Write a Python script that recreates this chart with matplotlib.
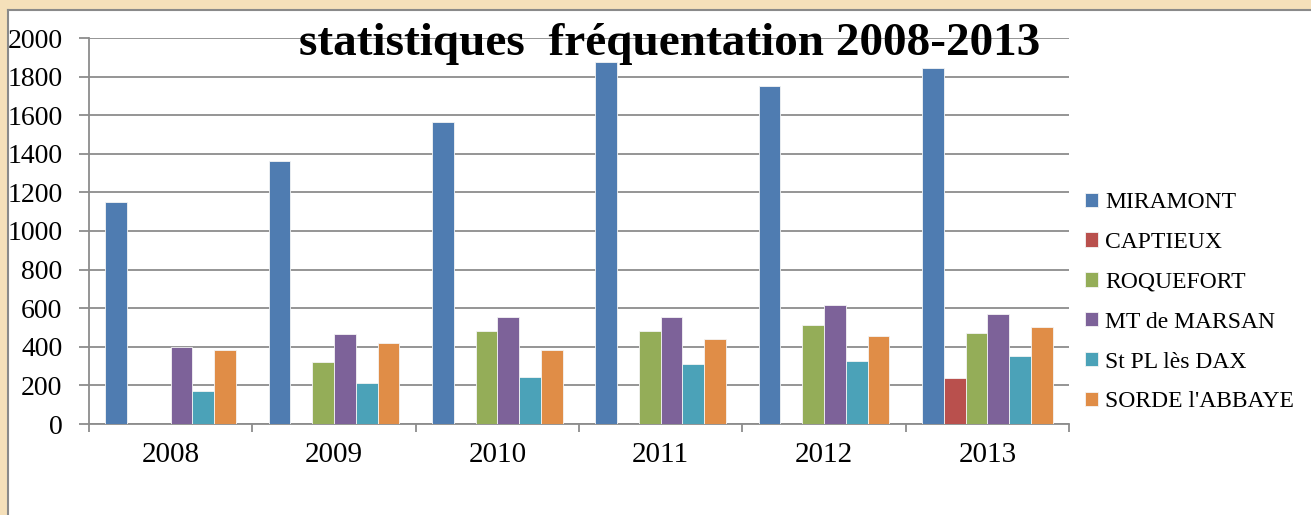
import matplotlib
matplotlib.use("Agg")
import matplotlib.pyplot as plt
import numpy as np

years = ['2008', '2009', '2010', '2011', '2012', '2013']
sites = ['MIRAMONT', 'CAPTIEUX', 'ROQUEFORT', 'MT de MARSAN', 'St PL lès DAX', "SORDE l'ABBAYE"]

miramont = [1148, 1362, 1567, 1878, 1752, 1846]
captieux = [0, 0, 0, 0, 0, 239]
roquefort = [0, 322, 484, 484, 515, 470]
mt_marsan = [400, 466, 556, 556, 615, 568]
st_pl_dax = [169, 214, 242, 313, 325, 351]
sorde = [383, 421, 383, 443, 458, 505]

series = [miramont, captieux, roquefort, mt_marsan, st_pl_dax, sorde]
colors = ['#4F7CB1', '#B9504D', '#94AD58', '#7D6299', '#4BA2B8', '#E08D47']

plt.rcParams['font.family'] = ['Liberation Serif', 'DejaVu Serif']

W, H = 1311, 515
fig = plt.figure(figsize=(W / 100, H / 100), dpi=100)
fig.patch.set_facecolor('#F5E0BA')

# white panel behind the chart
bg = fig.add_axes([8 / W, -0.05, 1.0, (H - 10) / H + 0.05], zorder=-1)
bg.set_facecolor('white')
bg.set_xticks([])
bg.set_yticks([])
for s in bg.spines.values():
    s.set_color('#8a8a8a')
    s.set_linewidth(1.5)

ax = fig.add_axes([89 / W, 91 / H, (1069 - 89) / W, (424 - 38) / H])
ax.set_facecolor('none')

x = np.arange(len(years))
n = len(series)
w = 1 / 7.5
for i, (vals, c, name) in enumerate(zip(series, colors, sites)):
    ax.bar(x + (i - (n - 1) / 2) * w, vals, width=w, color=c, label=name,
           edgecolor='#f4f4f4', linewidth=0.6, zorder=3)

ax.set_xlim(-0.5, len(years) - 0.5)
ax.set_ylim(0, 2000)
ax.set_yticks(range(0, 2001, 200))
ax.grid(axis='y', color='#8c8c8c', linewidth=1.3, zorder=0)
ax.set_axisbelow(True)

ax.set_xticks(x)
ax.set_xticklabels(years)
ax.set_xticks(np.arange(-0.5, len(years), 1), minor=True)
ax.tick_params(axis='x', which='major', length=0, pad=13, labelsize=21)
ax.tick_params(axis='x', which='minor', length=6, color='#8c8c8c', width=1.3)
ax.tick_params(axis='y', length=7, color='#8c8c8c', width=1.3, pad=12, labelsize=20)

for s in ['top', 'right']:
    ax.spines[s].set_visible(False)
for s in ['left', 'bottom']:
    ax.spines[s].set_color('#8c8c8c')
    ax.spines[s].set_linewidth(1.3)

fig.text(670 / W, 1 - 44 / H, 'statistiques  fréquentation 2008-2013',
         ha='center', va='center', fontsize=34, fontweight='bold')

ax.legend(loc='upper left', bbox_to_anchor=(1085 / W, 1 - 192 / H),
          bbox_transform=fig.transFigure, frameon=False, fontsize=17,
          handlelength=0.55, handleheight=0.55, handletextpad=0.3,
          labelspacing=0.8, borderaxespad=0, borderpad=0)

fig.savefig('out.png', dpi=100, facecolor=fig.get_facecolor())
